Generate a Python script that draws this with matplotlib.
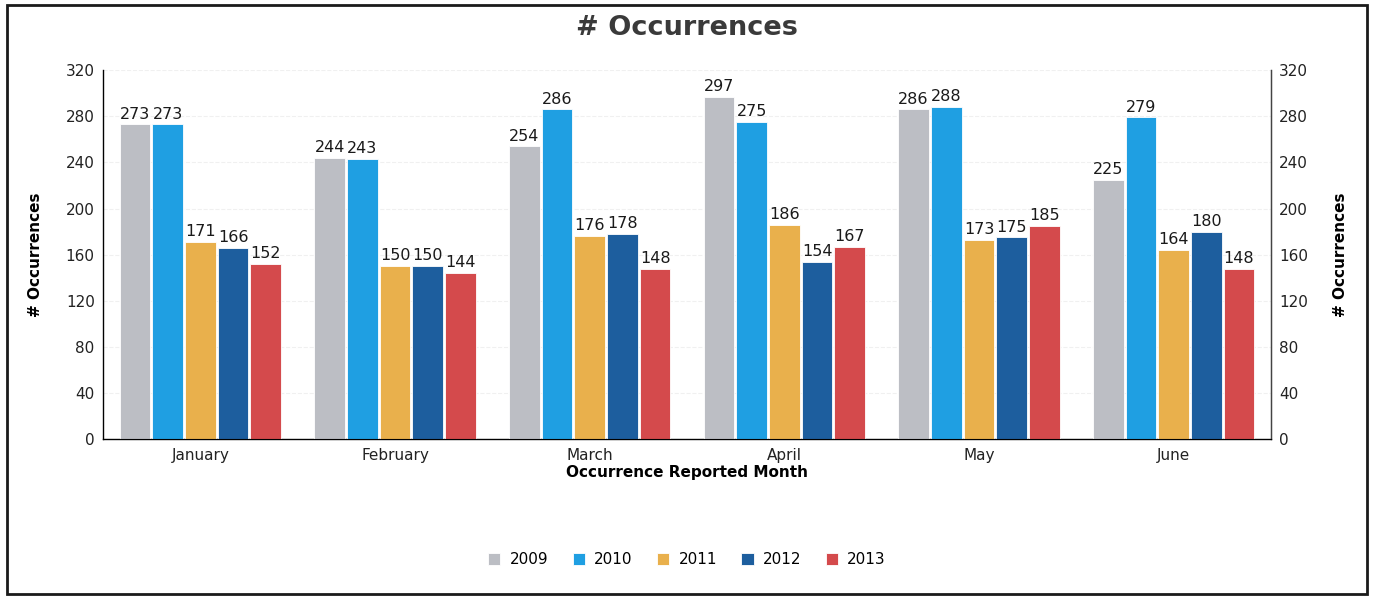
import numpy as np
import matplotlib.pyplot as plt
from matplotlib.patches import Rectangle

# monthly counts per year
months = ['January', 'February', 'March', 'April', 'May', 'June']
years = ['2009', '2010', '2011', '2012', '2013']
occ_2009 = [273, 244, 254, 297, 286, 225]
occ_2010 = [273, 243, 286, 275, 288, 279]
occ_2011 = [171, 150, 176, 186, 173, 164]
occ_2012 = [166, 150, 178, 154, 175, 180]
occ_2013 = [152, 144, 148, 167, 185, 148]
series = [occ_2009, occ_2010, occ_2011, occ_2012, occ_2013]
colors = ['#bcbec4', '#1f9fe2', '#e9b04c', '#1d5e9e', '#d44a4c']
yticks = [0, 40, 80, 120, 160, 200, 240, 280, 320]

plt.rcParams['font.family'] = ['DejaVu Sans']

fig = plt.figure(figsize=(13.74, 6.0), dpi=100, facecolor='white')
ax = fig.add_axes([0.075, 0.268, 0.85, 0.615])

x = np.arange(len(months))
slot = 0.168
width = 0.158
for i, (vals, col, yr) in enumerate(zip(series, colors, years)):
    pos = x + (i - 2) * slot
    bars = ax.bar(pos, vals, width=width, color=col, edgecolor='white',
                  linewidth=0.6, label=yr, zorder=3)
    ax.bar_label(bars, labels=[str(v) for v in vals], padding=2,
                 fontsize=11.5, color='#1a1a1a')

ax.set_xlim(-0.5, len(months) - 0.5)
ax.set_ylim(0, 320)
ax.set_yticks(yticks)
ax.set_xticks(x)
ax.set_xticklabels(months)
ax.tick_params(axis='both', length=0, labelsize=11, colors='#222222', pad=6)
ax.yaxis.grid(True, color='#f0f0f0', linewidth=0.8, linestyle='--', zorder=0)

ax.spines['top'].set_visible(False)
for s in ['left', 'bottom', 'right']:
    ax.spines[s].set_color('#444444')
    ax.spines[s].set_linewidth(1.0)

ax.set_ylabel('# Occurrences', fontsize=11, fontweight='bold', labelpad=16)
ax.set_xlabel('Occurrence Reported Month', fontsize=11, fontweight='bold', labelpad=2)

# mirrored scale on the right
ax2 = ax.twinx()
ax2.set_ylim(ax.get_ylim())
ax2.set_yticks(yticks)
ax2.tick_params(axis='y', length=0, labelsize=11, colors='#222222', pad=6)
ax2.spines['top'].set_visible(False)
ax2.spines['right'].set_color('#444444')
ax2.set_ylabel('# Occurrences', fontsize=11, fontweight='bold', labelpad=18,
               rotation=90)

fig.suptitle('# Occurrences', x=0.5, y=0.975, fontsize=19.5, fontweight='bold',
             color='#3a3a3a')

handles, labels = ax.get_legend_handles_labels()
fig.legend(handles, labels, loc='center', bbox_to_anchor=(0.5, 0.067),
           ncol=5, frameon=False, fontsize=11, handlelength=0.8,
           handleheight=0.8, columnspacing=1.6, handletextpad=0.6)

# outer frame
fig.patches.append(Rectangle((0.005, 0.01), 0.99, 0.982, transform=fig.transFigure,
                             fill=False, edgecolor='#1a1a1a', linewidth=2))

fig.savefig('out.png', dpi=100, facecolor='white')
